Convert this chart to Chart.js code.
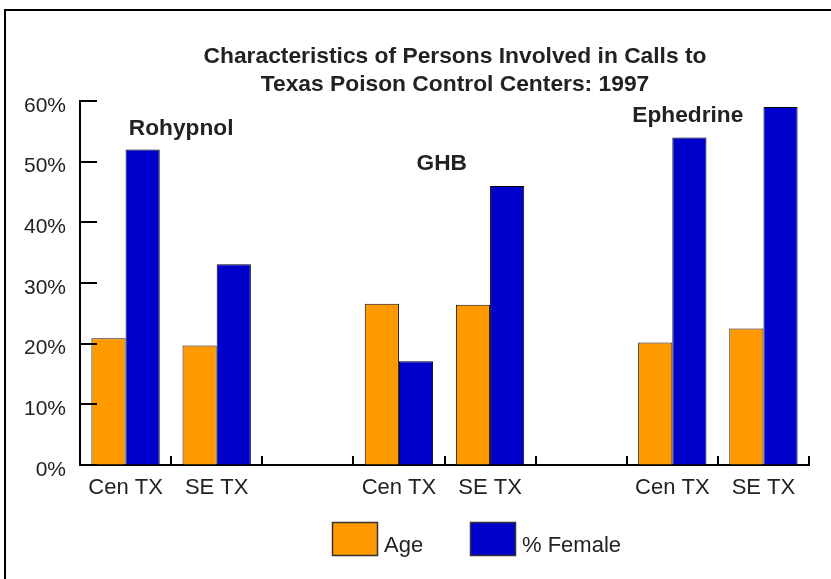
<!DOCTYPE html>
<html>
<head>
<meta charset="utf-8">
<script src="https://cdn.jsdelivr.net/npm/chart.js@4/dist/chart.umd.min.js"></script>
<style>
  html, body { margin: 0; padding: 0; background: #fff; }
  #wrap { width: 831px; height: 579px; position: relative; }
</style>
</head>
<body>
<div id="wrap"><canvas id="c" width="831" height="579"></canvas></div>
<script>
// ---- data ----
const categories = ['Cen TX', 'SE TX', '', 'Cen TX', 'SE TX', '', 'Cen TX', 'SE TX'];
const ageValues = [20.9, 19.7, null, 26.6, 26.4, null, 20.2, 22.5];
const femaleValues = [52.0, 33.1, null, 17.1, 46.0, null, 54.0, 59.0];
const seriesNames = ['Age', '% Female'];
const groupNames = ['Rohypnol', 'GHB', 'Ephedrine'];
const titleLines = ['Characteristics of Persons Involved in Calls to', 'Texas Poison Control Centers: 1997'];
const yMin = 0, yMax = 60, yStep = 10;

const FONT = "'Liberation Sans', Arial, Helvetica, sans-serif";
const TEXT = '#222';
const ORANGE = '#FF9900';
const BLUE = '#0000CC';

// group label anchors in data coordinates (category index, value)
const groupAnchors = [
  { name: groupNames[0], idx: 0.61, val: 55.4 },
  { name: groupNames[1], idx: 3.47, val: 49.7 },
  { name: groupNames[2], idx: 6.17, val: 57.5 }
];

const decor = {
  id: 'decor',
  afterLayout(chart) {
    const t = chart.titleBlock;
    if (t) { t.left += 50.5; t.right += 50.5; }
  },
  beforeDraw(chart) {
    const ctx = chart.ctx;
    ctx.save();
    ctx.strokeStyle = '#000';
    ctx.lineWidth = 2;
    ctx.beginPath();
    ctx.moveTo(5, 600);
    ctx.lineTo(5, 10);
    ctx.lineTo(900, 10);
    ctx.stroke();
    ctx.restore();
  },
  afterDraw(chart) {
    const ctx = chart.ctx;
    const xs = chart.scales.x, ys = chart.scales.y;
    const step = xs.getPixelForValue(1) - xs.getPixelForValue(0);
    ctx.save();
    ctx.strokeStyle = '#000';
    ctx.lineWidth = 2;
    // inward y ticks
    ys.ticks.forEach(tk => {
      const py = Math.round(ys.getPixelForValue(tk.value));
      ctx.beginPath();
      ctx.moveTo(xs.left, py);
      ctx.lineTo(xs.left + 17, py);
      ctx.stroke();
    });
    // inward x ticks at category boundaries
    for (let i = 1; i <= categories.length; i++) {
      const px = Math.round(xs.getPixelForValue(i) - step / 2);
      ctx.beginPath();
      ctx.moveTo(px, ys.bottom + 1);
      ctx.lineTo(px, ys.bottom - 9);
      ctx.stroke();
    }
    // group labels
    ctx.fillStyle = TEXT;
    ctx.font = 'bold 22.7px ' + FONT;
    ctx.textAlign = 'center';
    ctx.textBaseline = 'middle';
    groupAnchors.forEach(g => {
      const px = xs.getPixelForValue(0) + g.idx * step;
      const py = ys.getPixelForValue(g.val);
      ctx.fillText(g.name, px, py);
    });
    // legend
    const ds = chart.data.datasets;
    const boxW = 46, boxH = 34;
    const legendItems = [{ x: 332 }, { x: 470 }];
    ctx.font = '22px ' + FONT;
    ctx.textAlign = 'left';
    ctx.textBaseline = 'alphabetic';
    ds.forEach((d, i) => {
      const lx = legendItems[i].x, ly = 522;
      ctx.fillStyle = d.backgroundColor;
      ctx.fillRect(lx, ly, boxW, boxH);
      ctx.strokeStyle = '#333';
      ctx.lineWidth = 1.5;
      ctx.strokeRect(lx + 0.5, ly + 0.5, boxW - 1, boxH - 1);
      ctx.fillStyle = TEXT;
      ctx.fillText(d.label, lx + boxW + 6, 552);
    });
    ctx.restore();
  }
};

new Chart(document.getElementById('c'), {
  type: 'bar',
  data: {
    labels: categories,
    datasets: [
      { label: seriesNames[0], data: ageValues, backgroundColor: ORANGE, borderColor: '#111', borderWidth: 1 },
      { label: seriesNames[1], data: femaleValues, backgroundColor: BLUE, borderColor: '#000', borderWidth: 1 }
    ]
  },
  options: {
    responsive: false,
    animation: false,
    events: [],
    layout: { padding: { left: 0, right: 22, top: 0, bottom: 0 } },
    datasets: { bar: { categoryPercentage: 0.75, barPercentage: 1.0 } },
    plugins: {
      legend: { display: false },
      tooltip: { enabled: false },
      title: {
        display: true,
        text: titleLines,
        color: TEXT,
        font: { family: FONT, size: 22.8, weight: 'bold', lineHeight: '28px' },
        padding: { top: 43, bottom: 2 }
      }
    },
    scales: {
      x: {
        grid: { display: true, drawOnChartArea: false, drawTicks: false },
        border: { display: true, color: '#000', width: 2 },
        ticks: { color: TEXT, font: { family: FONT, size: 22 }, padding: 10, maxRotation: 0, autoSkip: false },
        afterFit(s) { s.height = 114; }
      },
      y: {
        min: yMin, max: yMax,
        grid: { display: true, drawOnChartArea: false, drawTicks: false },
        border: { display: true, color: '#000', width: 2 },
        ticks: { stepSize: yStep, color: TEXT, font: { family: FONT, size: 21 }, padding: 14, labelOffset: 5, callback: v => v + '%' },
        afterFit(s) { s.width = 80; }
      }
    }
  },
  plugins: [decor]
});
</script>
</body>
</html>
